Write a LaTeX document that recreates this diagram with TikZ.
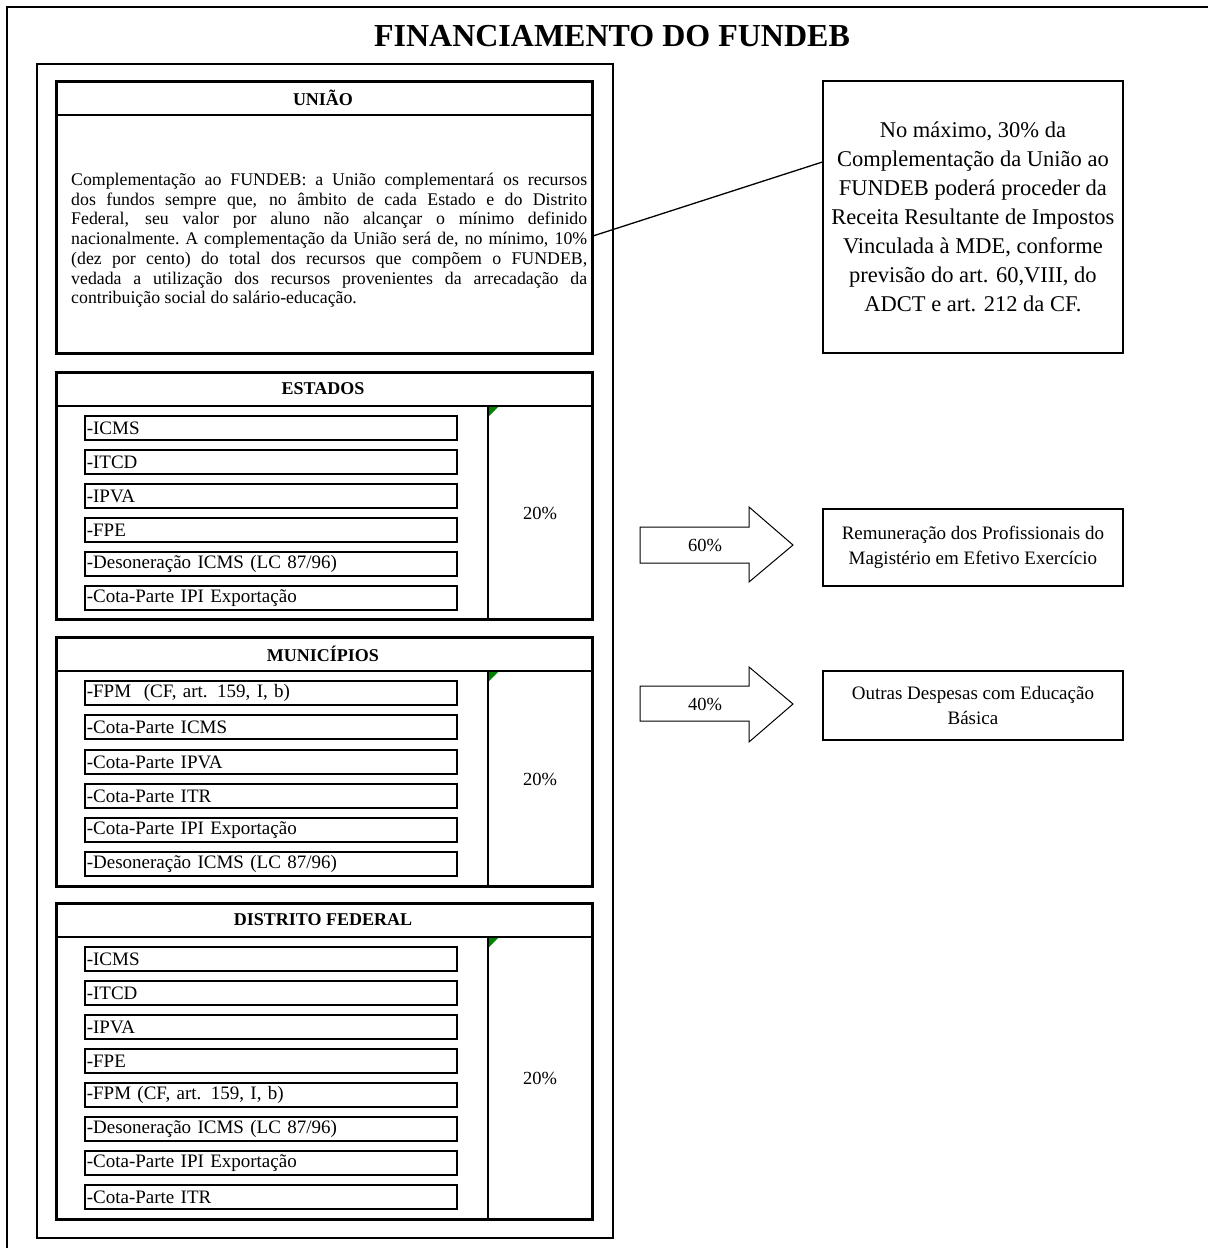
\documentclass[tikz,border=0pt]{standalone}
\usepackage{fontspec}
\setmainfont{Liberation Serif}
\usetikzlibrary{calc}
\begin{document}
\begin{tikzpicture}[x=1pt,y=-1pt,
  sect/.style={draw,line width=3pt,inner sep=0pt,anchor=north west},
  hdr/.style={font=\fontsize{18}{20}\selectfont\bfseries},
  divline/.style={line width=1.5pt},
  item/.style={draw,line width=1.6pt,anchor=west,inner xsep=2pt,inner ysep=0pt,text width=368pt,align=left,minimum height=24pt,font=\fontsize{19}{20}\selectfont},
  pct/.style={font=\fontsize{18.5}{20}\selectfont},
  rbox/.style={draw,line width=1.8pt,anchor=north west,inner sep=0pt,align=center},
  greentri/.style={fill=green!50!black},
  blockarrow/.style={draw,line width=1pt,fill=white},
]
\useasboundingbox (0,0) rectangle (1208,1248);
% outer frame
\draw[line width=2pt] (7,1248) -- (7,7) -- (1208,7);
% title
\node[font=\fontsize{32}{34}\selectfont\bfseries] (title) at (612,36) {FINANCIAMENTO DO FUNDEB};
% inner frame
\draw[line width=1.5pt] (37,64) rectangle (613,1238);

% ---------- UNIAO ----------
\node[sect,minimum width=536pt,minimum height=272pt] (uniao) at (55,80) {};
\draw[divline] (55,115) -- (591,115);
\node[hdr] (uniaoh) at (323,98) {UNIÃO};
\node[anchor=north west,text width=516pt,inner sep=0pt,font=\fontsize{17.8}{19.7}\selectfont] (utext) at (71,173) {%
\parindent=0pt\leftskip=0pt\rightskip=0pt\parfillskip=0pt
\spaceskip=0.25em plus 2em minus 0.06em\xspaceskip=\spaceskip
Complementação ao FUNDEB: a União complementará os recursos\par
dos fundos sempre que, no âmbito de cada Estado e do Distrito\par
Federal, seu valor por aluno não alcançar o mínimo definido\par
nacionalmente. A complementação da União será de, no mínimo, 10\%\par
(dez por cento) do total dos recursos que compõem o FUNDEB,\par
vedada a utilização dos recursos provenientes da arrecadação da\par
\parfillskip=0pt plus 1fil
contribuição social do salário-educação.\par};

% note box
\node[rbox,minimum width=300pt,minimum height=272pt,font=\fontsize{22.5}{29}\selectfont] (nota) at (822,80) {No máximo, 30\% da\\Complementação da União ao\\FUNDEB poderá proceder da\\Receita Resultante de Impostos\\Vinculada à MDE, conforme\\previsão do art. 60,VIII, do\\ADCT e art. 212 da CF.};
\coordinate (ua) at ($(uniao.north east)!0.566!(uniao.south east)$);
\coordinate (nb) at ($(nota.north west)!0.30!(nota.south west)$);
\draw[line width=1.3pt] (ua) -- (nb);

% ---------- ESTADOS ----------
\node[sect,minimum width=536pt,minimum height=247pt] (est) at (55,371) {};
\draw[divline] (55,406) -- (591,406);
\draw[divline] (488,406) -- (488,618);
\fill[greentri] (489,407) -- (498,407) -- (489,416) -- cycle;
\node[hdr] (esth) at (323,389) {ESTADOS};
\node[item] (e1) at (84,428) {-ICMS};
\node[item] (e2) at (84,462) {-ITCD};
\node[item] (e3) at (84,496) {-IPVA};
\node[item] (e4) at (84,530) {-FPE};
\node[item] (e5) at (84,564) {-Desoneração ICMS (LC 87/96)};
\node[item] (e6) at (84,598) {-Cota-Parte IPI Exportação};
\node[pct] (ep) at (540,513) {20\%};

% ---------- MUNICIPIOS ----------
\node[sect,minimum width=536pt,minimum height=249pt] (mun) at (55,636) {};
\draw[divline] (55,671) -- (591,671);
\draw[divline] (488,671) -- (488,885);
\fill[greentri] (489,672) -- (498,672) -- (489,681) -- cycle;
\node[hdr] (munh) at (323,654) {MUNICÍPIOS};
\node[item] (m1) at (84,693) {-FPM\ \ (CF, art. 159, I, b)};
\node[item] (m2) at (84,727) {-Cota-Parte ICMS};
\node[item] (m3) at (84,762) {-Cota-Parte IPVA};
\node[item] (m4) at (84,796) {-Cota-Parte ITR};
\node[item] (m5) at (84,830) {-Cota-Parte IPI Exportação};
\node[item] (m6) at (84,864) {-Desoneração ICMS (LC 87/96)};
\node[pct] (mp) at (540,779) {20\%};

% ---------- DISTRITO FEDERAL ----------
\node[sect,minimum width=536pt,minimum height=316pt] (df) at (55,902) {};
\draw[divline] (55,937) -- (591,937);
\draw[divline] (488,937) -- (488,1218);
\fill[greentri] (489,938) -- (498,938) -- (489,947) -- cycle;
\node[hdr] (dfh) at (323,920) {DISTRITO FEDERAL};
\node[item] (d1) at (84,959) {-ICMS};
\node[item] (d2) at (84,993) {-ITCD};
\node[item] (d3) at (84,1027) {-IPVA};
\node[item] (d4) at (84,1061) {-FPE};
\node[item] (d5) at (84,1095) {-FPM (CF, art. 159, I, b)};
\node[item] (d6) at (84,1129) {-Desoneração ICMS (LC 87/96)};
\node[item] (d7) at (84,1163) {-Cota-Parte IPI Exportação};
\node[item] (d8) at (84,1197) {-Cota-Parte ITR};
\node[pct] (dp) at (540,1078) {20\%};

% ---------- arrows ----------
\draw[blockarrow] (640,527) -- (749,527) -- (749,507) -- (793,545) -- (749,582) -- (749,563) -- (640,563) -- cycle;
\node[pct] (a60) at (705,545) {60\%};
\draw[blockarrow] (640,686) -- (749,686) -- (749,667) -- (793,704) -- (749,742) -- (749,721) -- (640,721) -- cycle;
\node[pct] (a40) at (705,704) {40\%};

\node[rbox,minimum width=300pt,minimum height=77pt,font=\fontsize{19}{25}\selectfont] (rem) at (822,508) {Remuneração dos Profissionais do\\Magistério em Efetivo Exercício};
\node[rbox,minimum width=300pt,minimum height=69pt,font=\fontsize{19}{25}\selectfont] (outras) at (822,670) {Outras Despesas com Educação\\Básica};
\end{tikzpicture}
\end{document}
